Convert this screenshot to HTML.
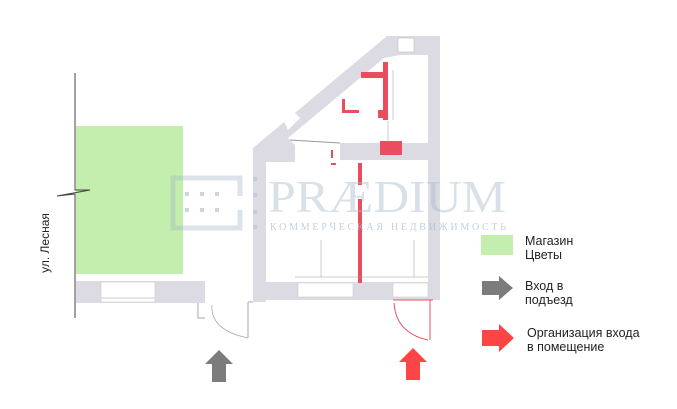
<!DOCTYPE html>
<html><head><meta charset="utf-8"><style>
html,body{margin:0;padding:0;background:#fff;width:677px;height:409px;overflow:hidden}
svg{display:block}
</style></head><body>
<svg width="677" height="409" viewBox="0 0 677 409" xmlns="http://www.w3.org/2000/svg">
<rect x="76" y="126" width="107" height="148" fill="#c3eeae"/>
<polyline points="75,73 75,190 90,190 57,196 75,194 75,318" fill="none" stroke="#444" stroke-width="1"/>
<text transform="translate(49,243) rotate(-90)" text-anchor="middle" font-family="Liberation Sans, sans-serif" font-size="12" fill="#222">ул. Лесная</text>
<rect x="76" y="281" width="129" height="22" fill="#dcdbe4"/>
<rect x="101" y="282" width="54" height="20" fill="#fff" stroke="#ccc" stroke-width="0.6"/>
<line x1="101" y1="298" x2="155" y2="298" stroke="#bbb" stroke-width="0.8"/>
<polyline points="198,303 198,318 205,318" fill="none" stroke="#aaa" stroke-width="1"/>
<path d="M212,305 Q210,330 248,338" fill="none" stroke="#aaa" stroke-width="0.8"/>
<line x1="248" y1="302" x2="248" y2="338" stroke="#aaa" stroke-width="1"/>
<polyline points="248,302 253,302" fill="none" stroke="#aaa"/>
<g fill="#dcdbe4">
<rect x="253" y="150" width="13" height="152"/>
<rect x="253" y="282" width="187" height="18"/>
<rect x="428" y="38" width="12" height="262"/>
<rect x="386" y="36" width="54" height="19"/>
<polygon points="253,148 387,36 400,36 400,55 384,58 288,138 295,145 295,162 253,162"/>
<rect x="340" y="143" width="100" height="17"/>
</g>
<rect x="398" y="38" width="16" height="14" fill="#fff" stroke="#bbb" stroke-width="0.6"/>
<rect x="298" y="283" width="55" height="14" fill="#fff" stroke="#ccc" stroke-width="0.6"/>
<rect x="393" y="283" width="35" height="14" fill="#fff" stroke="#ccc" stroke-width="0.6"/>
<path d="M280,113 Q288,104 300,118 L288,130 Z" fill="#fff"/>
<g fill="#ec4d5e">
<rect x="383" y="62" width="5" height="58"/>
<rect x="361" y="72" width="22" height="6"/>
<rect x="342" y="99" width="3" height="14"/>
<rect x="342" y="110" width="17" height="3"/>
<rect x="378" y="110" width="5" height="8"/>
<rect x="380" y="141" width="22" height="14"/>
<rect x="358" y="163" width="4" height="22"/>
<rect x="358" y="199" width="4" height="84"/>
<rect x="331" y="150" width="2" height="8"/>
<rect x="331" y="163" width="5" height="2"/>
</g>
<g fill="none" stroke="#e85060" stroke-width="1">
<line x1="393" y1="300" x2="433" y2="300"/>
<line x1="430" y1="300" x2="430" y2="340"/>
<path d="M394,303 Q396,333 428,340"/>
</g>
<g stroke="#999" stroke-width="0.5" fill="none">
<line x1="295" y1="277" x2="428" y2="277"/>
<line x1="321" y1="240" x2="321" y2="277"/>
<line x1="414" y1="240" x2="414" y2="277"/>
<line x1="393" y1="70" x2="393" y2="120"/>
<line x1="388" y1="121" x2="388" y2="143"/>
</g>
<line x1="290" y1="140" x2="340" y2="143" stroke="#999" stroke-width="1"/>
<g opacity="0.35" fill="none" stroke="#9db0c4" stroke-width="5">
<polyline points="240,196 240,178 173,178 173,228 240,228 240,210"/>
</g>
<g fill="#b8c6d4" opacity="0.7">
<rect x="185" y="192" width="4" height="4"/><rect x="200" y="192" width="4" height="4"/><rect x="215" y="192" width="4" height="4"/>
<rect x="185" y="208" width="4" height="4"/><rect x="200" y="208" width="4" height="4"/><rect x="215" y="208" width="4" height="4"/>
<rect x="253" y="177" width="4" height="4"/><rect x="253" y="193" width="4" height="4"/><rect x="253" y="210" width="4" height="4"/><rect x="253" y="225" width="4" height="4"/>
</g>
<text x="268" y="212" font-family="Liberation Serif, serif" font-size="46" fill="#a9bccd" opacity="0.45" textLength="238" lengthAdjust="spacingAndGlyphs">PRÆDIUM</text>
<text x="270" y="230" font-family="Liberation Serif, serif" font-size="10" fill="#a9bccd" opacity="0.7" textLength="236" lengthAdjust="spacing">КОММЕРЧЕСКАЯ НЕДВИЖИМОСТЬ</text>
<polygon points="219,350 233,364 226,364 226,382 212,382 212,364 205,364" fill="#7c7c7c"/>
<polygon points="413,348 427,362 420,362 420,380 406,380 406,362 399,362" fill="#fd4545"/>
<rect x="481" y="235" width="32" height="20" fill="#c3eeae"/>
<polygon points="482,281 499,281 499,276 513,288 499,300 499,295 482,295" fill="#7c7c7c"/>
<polygon points="482,330 499,330 499,324 514,338 499,352 499,346 482,346" fill="#fd4545"/>
<g font-family="Liberation Sans, sans-serif" font-size="12.5" fill="#222">
<text x="525" y="245">Магазин</text>
<text x="525" y="259">Цветы</text>
<text x="525" y="290">Вход в</text>
<text x="525" y="304">подъезд</text>
<text x="527" y="337">Организация входа</text>
<text x="527" y="351">в помещение</text>
</g>
</svg>
</body></html>
